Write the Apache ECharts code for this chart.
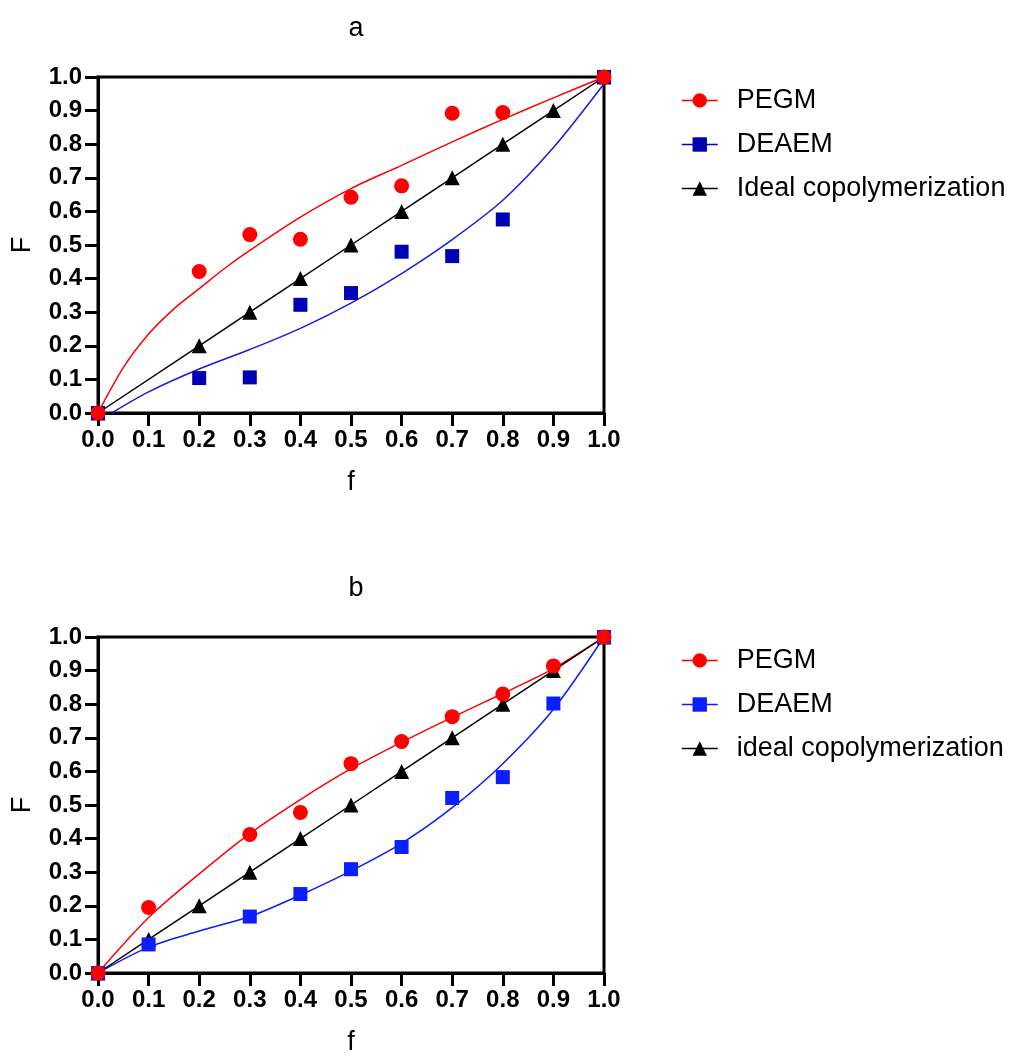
<!DOCTYPE html>
<html>
<head>
<meta charset="utf-8">
<script src="https://cdn.jsdelivr.net/npm/echarts@6/dist/echarts.min.js"></script>
<style>
  html, body { margin: 0; padding: 0; background: #fff; }
  #chart { width: 1015px; height: 1057px; }
</style>
</head>
<body>
<div id="chart"></div>
<script>
// panel a - measured points
var pegmA = [[0, 0], [0.2, 0.421], [0.3, 0.531], [0.4, 0.517], [0.5, 0.642], [0.6, 0.676], [0.7, 0.892], [0.8, 0.894], [1, 1]];
var deaemA = [[0, 0], [0.2, 0.104], [0.3, 0.106], [0.4, 0.322], [0.5, 0.357], [0.6, 0.48], [0.7, 0.467], [0.8, 0.576], [1, 1]];
var idealA = [[0, 0], [0.2, 0.2], [0.3, 0.3], [0.4, 0.4], [0.5, 0.5], [0.6, 0.6], [0.7, 0.7], [0.8, 0.8], [0.9, 0.9], [1, 1]];
// panel a - fitted curves
var pegmFitA = [[0, 0], [0.05, 0.135], [0.1, 0.235], [0.15, 0.31], [0.2, 0.37], [0.25, 0.43], [0.3, 0.484], [0.4, 0.583], [0.5, 0.668], [0.6, 0.737], [0.7, 0.807], [0.8, 0.874], [0.9, 0.938], [1, 1]];
var deaemFitA = [[0.027, 0], [0.1, 0.063], [0.2, 0.131], [0.3, 0.189], [0.4, 0.252], [0.5, 0.327], [0.6, 0.415], [0.7, 0.516], [0.8, 0.633], [0.9, 0.79], [1, 0.98]];

// panel b - measured points
var pegmB = [[0, 0], [0.1, 0.195], [0.3, 0.412], [0.4, 0.478], [0.5, 0.623], [0.6, 0.689], [0.7, 0.763], [0.8, 0.83], [0.9, 0.914], [1, 1]];
var deaemB = [[0, 0], [0.1, 0.085], [0.3, 0.168], [0.4, 0.235], [0.5, 0.309], [0.6, 0.375], [0.7, 0.521], [0.8, 0.583], [0.9, 0.802], [1, 1]];
var idealB = [[0, 0], [0.1, 0.1], [0.2, 0.2], [0.3, 0.3], [0.4, 0.4], [0.5, 0.5], [0.6, 0.6], [0.7, 0.7], [0.8, 0.8], [0.9, 0.9], [1, 1]];
// panel b - fitted curves
var pegmFitB = [[0, 0], [0.1, 0.165], [0.2, 0.295], [0.3, 0.415], [0.4, 0.516], [0.5, 0.608], [0.6, 0.687], [0.7, 0.761], [0.8, 0.832], [0.9, 0.906], [1, 1]];
var deaemFitB = [[0, 0], [0.1, 0.077], [0.2, 0.125], [0.3, 0.168], [0.4, 0.232], [0.5, 0.304], [0.6, 0.386], [0.7, 0.492], [0.8, 0.623], [0.9, 0.785], [1, 1]];

var FONT = 'Liberation Sans, Arial, sans-serif';
var RED = '#ff0000';
var BLUE_A = '#0000b4';
var BLUE_A_LINE = '#1a1ae0';
var BLUE_B = '#0a1eff';

var myChart = echarts.init(document.getElementById('chart'));

function xAxis(i) {
  return {
    gridIndex: i, type: 'value', min: 0, max: 1, interval: 0.1,
    name: 'f', nameLocation: 'middle', nameGap: 56, nameMoveOverlap: false,
    nameTextStyle: { fontFamily: FONT, fontSize: 27, color: '#000' },
    axisLine: { onZero: false, lineStyle: { color: '#000', width: 3 } },
    axisTick: { length: 13, lineStyle: { color: '#000', width: 3 } },
    axisLabel: { margin: 15, fontFamily: FONT, fontSize: 24, fontWeight: 'bold', color: '#000',
      formatter: function (v) { return v.toFixed(1); } },
    splitLine: { show: false }
  };
}
function yAxis(i) {
  return {
    gridIndex: i, type: 'value', min: 0, max: 1, interval: 0.1,
    name: 'F', nameLocation: 'middle', nameGap: 62, nameMoveOverlap: false,
    nameTextStyle: { fontFamily: FONT, fontSize: 27, color: '#000' },
    axisLine: { onZero: false, lineStyle: { color: '#000', width: 3 } },
    axisTick: { length: 13, lineStyle: { color: '#000', width: 3 } },
    axisLabel: { margin: 16, fontFamily: FONT, fontSize: 24, fontWeight: 'bold', color: '#000',
      formatter: function (v) { return v.toFixed(1); } },
    splitLine: { show: false }
  };
}
function legend(top, names, blue) {
  return {
    orient: 'vertical', left: 681, top: top, padding: 0,
    itemWidth: 36, itemHeight: 18, itemGap: 17,
    textStyle: { fontFamily: FONT, fontSize: 27, color: '#000', padding: [0, 0, 0, 14] },
    lineStyle: { width: 1.5, opacity: 1 },
    data: [
      { name: names[0] },
      { name: names[1], itemStyle: { color: blue }, lineStyle: { color: blue } },
      { name: names[2] }
    ]
  };
}
function fit(name, i, data, color) {
  return {
    name: name, type: 'line', xAxisIndex: i, yAxisIndex: i, data: data,
    smooth: 0.3, showSymbol: false, symbol: 'none', clip: false, silent: true,
    lineStyle: { color: color, width: 1.5 }, z: 2
  };
}
function points(name, i, data, color, symbol, size) {
  return {
    name: name, type: 'line', xAxisIndex: i, yAxisIndex: i, data: data,
    symbol: symbol, symbolSize: size, clip: false,
    itemStyle: { color: color, opacity: 1 },
    lineStyle: { color: color, width: 0, opacity: 0 }, z: 4
  };
}
function ideal(name, i, data) {
  return {
    name: name, type: 'line', xAxisIndex: i, yAxisIndex: i, data: data,
    symbol: 'triangle', symbolSize: 15, clip: false,
    itemStyle: { color: '#000' },
    lineStyle: { color: '#000', width: 1.5 }, z: 3
  };
}

var option = {
  animation: false,
  backgroundColor: '#fff',
  title: [
    { text: 'a', left: 351, top: 10, textAlign: 'center', textStyle: { fontFamily: FONT, fontSize: 27, fontWeight: 'normal', color: '#000' } },
    { text: 'b', left: 351, top: 570, textAlign: 'center', textStyle: { fontFamily: FONT, fontSize: 27, fontWeight: 'normal', color: '#000' } }
  ],
  grid: [
    { left: 98, top: 77, width: 506, height: 336, show: true, borderColor: '#000', borderWidth: 3, outerBoundsMode: 'none' },
    { left: 98, top: 637, width: 506, height: 336, show: true, borderColor: '#000', borderWidth: 3, outerBoundsMode: 'none' }
  ],
  xAxis: [xAxis(0), xAxis(1)],
  yAxis: [yAxis(0), yAxis(1)],
  legend: [
    legend(87, ['PEGM', 'DEAEM', 'Ideal copolymerization'], BLUE_A),
    legend(647, ['PEGM', 'DEAEM', 'ideal copolymerization'], BLUE_B)
  ],
  series: [
    ideal('Ideal copolymerization', 0, idealA),
    fit('PEGM fit a', 0, pegmFitA, RED),
    fit('DEAEM fit a', 0, deaemFitA, BLUE_A_LINE),
    points('DEAEM', 0, deaemA, BLUE_A, 'rect', 14),
    points('PEGM', 0, pegmA, RED, 'circle', 15),

    ideal('ideal copolymerization', 1, idealB),
    fit('PEGM fit b', 1, pegmFitB, RED),
    fit('DEAEM fit b', 1, deaemFitB, BLUE_B),
    points('DEAEM', 1, deaemB, BLUE_B, 'rect', 14),
    points('PEGM', 1, pegmB, RED, 'circle', 15)
  ]
};
myChart.setOption(option);
</script>
</body>
</html>
